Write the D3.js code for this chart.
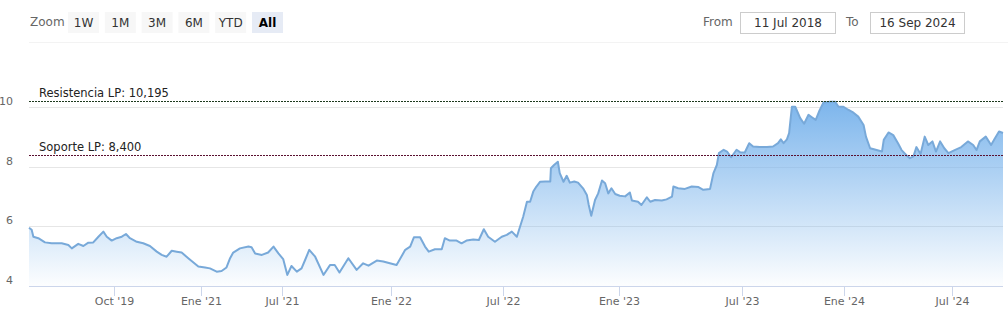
<!DOCTYPE html>
<html>
<head>
<meta charset="utf-8">
<script src="https://cdn.jsdelivr.net/npm/d3@7"></script>
<style>
  body { margin: 0; background: #fff; }
  svg { display: block; font-family: "DejaVu Sans", sans-serif; }
</style>
</head>
<body>
<svg id="chart" width="1008" height="317"></svg>
<script>
// DATA
var dates = [
    "2018-07-11", "2018-07-25", "2018-08-03", "2018-08-29", "2018-10-03", "2018-11-07", "2018-12-30",
    "2019-02-03", "2019-02-21", "2019-03-27", "2019-04-23", "2019-05-19", "2019-06-14", "2019-07-11",
    "2019-08-06", "2019-08-24", "2019-09-19", "2019-10-15", "2019-11-11", "2019-12-03", "2019-12-24",
    "2020-01-29", "2020-03-03", "2020-04-07", "2020-05-13", "2020-06-08", "2020-07-04", "2020-07-31",
    "2020-08-26", "2020-09-21", "2020-10-26", "2020-12-18",
    "2021-01-10", "2021-01-21", "2021-02-05", "2021-02-16", "2021-02-27", "2021-03-07", "2021-03-14",
    "2021-03-29", "2021-04-17", "2021-04-24", "2021-05-02", "2021-05-17", "2021-05-31", "2021-06-12",
    "2021-06-23", "2021-07-03", "2021-07-10", "2021-07-17", "2021-07-26", "2021-08-03", "2021-08-09",
    "2021-08-16", "2021-08-26", "2021-09-09", "2021-09-20", "2021-09-28", "2021-10-06", "2021-10-21",
    "2021-11-04", "2021-11-15", "2021-11-24", "2021-12-08", "2021-12-19", "2021-12-30",
    "2022-01-10", "2022-01-24", "2022-02-01", "2022-02-07", "2022-02-17", "2022-02-25", "2022-03-03",
    "2022-03-13", "2022-03-24", "2022-03-29", "2022-04-06", "2022-04-17", "2022-04-25", "2022-05-03",
    "2022-05-14", "2022-05-23", "2022-05-31", "2022-06-07", "2022-06-18", "2022-06-29", "2022-07-07",
    "2022-07-15", "2022-07-23", "2022-08-02", "2022-08-08", "2022-08-13", "2022-08-18", "2022-08-23",
    "2022-08-29", "2022-09-06", "2022-09-14", "2022-09-15", "2022-09-20", "2022-09-26", "2022-09-29",
    "2022-10-05", "2022-10-10", "2022-10-15", "2022-10-22", "2022-10-28", "2022-11-05", "2022-11-11",
    "2022-11-14", "2022-11-18", "2022-11-24", "2022-11-29", "2022-12-05", "2022-12-10", "2022-12-15",
    "2022-12-20", "2022-12-26",
    "2023-01-02", "2023-01-10", "2023-01-17", "2023-01-20", "2023-01-29", "2023-02-03", "2023-02-11",
    "2023-02-16", "2023-02-23", "2023-03-05", "2023-03-12", "2023-03-20", "2023-03-22", "2023-03-29",
    "2023-04-08", "2023-04-18", "2023-04-28", "2023-05-05", "2023-05-15", "2023-05-20", "2023-05-25",
    "2023-05-28", "2023-06-04", "2023-06-09", "2023-06-15", "2023-06-23", "2023-06-28", "2023-07-06",
    "2023-07-14", "2023-07-21", "2023-08-02", "2023-08-15", "2023-08-26", "2023-09-04", "2023-09-09",
    "2023-09-14", "2023-09-20", "2023-09-24", "2023-09-29", "2023-10-05", "2023-10-14", "2023-10-21",
    "2023-10-29", "2023-11-04", "2023-11-11", "2023-11-17", "2023-11-25", "2023-12-07", "2023-12-16",
    "2023-12-22", "2023-12-31",
    "2024-01-08", "2024-01-17", "2024-01-25", "2024-02-03", "2024-02-07", "2024-02-14", "2024-02-25",
    "2024-03-05", "2024-03-08", "2024-03-16", "2024-03-24", "2024-04-01", "2024-04-07", "2024-04-16",
    "2024-04-21", "2024-04-27", "2024-05-02", "2024-05-09", "2024-05-16", "2024-05-22", "2024-05-29",
    "2024-06-04", "2024-06-11", "2024-06-18", "2024-06-25", "2024-07-05", "2024-07-15", "2024-07-25",
    "2024-08-02", "2024-08-07", "2024-08-12", "2024-08-21", "2024-08-29", "2024-09-03", "2024-09-10",
    "2024-09-16"
];

var prices = [
    5.95, 5.88, 5.65, 5.60, 5.46, 5.43, 5.43,
    5.37, 5.26, 5.41, 5.34, 5.45, 5.46, 5.65,
    5.82, 5.65, 5.52, 5.60, 5.65, 5.74, 5.60,
    5.48, 5.43, 5.34, 5.15, 5.04, 4.98, 5.18,
    5.15, 5.12, 4.93, 4.65,
    4.62, 4.59, 4.48, 4.50, 4.62, 4.93, 5.12,
    5.26, 5.32, 5.30, 5.09, 5.04, 5.12, 5.32,
    5.09, 4.90, 4.37, 4.67, 4.48, 4.59, 4.87,
    5.21, 4.98, 4.37, 4.70, 4.70, 4.45, 4.93,
    4.54, 4.76, 4.68, 4.85, 4.82, 4.76,
    4.70, 5.21, 5.32, 5.63, 5.63, 5.32, 5.15,
    5.23, 5.23, 5.60, 5.52, 5.52, 5.43, 5.52,
    5.56, 5.54, 5.90, 5.65, 5.48, 5.65, 5.71,
    5.82, 5.65, 6.32, 6.82, 6.82, 7.16, 7.33,
    7.49, 7.50, 7.50, 7.94, 8.05, 8.16, 7.78,
    7.49, 7.69, 7.46, 7.50, 7.46, 7.27, 7.05,
    6.71, 6.35, 6.88, 7.10, 7.53, 7.44, 7.10,
    7.27, 7.08,
    7.02, 7.00, 7.13, 6.86, 6.82, 6.71, 6.97,
    6.82, 6.88, 6.86, 6.90, 6.99, 7.33, 7.27,
    7.25, 7.33, 7.31, 7.22, 7.25, 7.78, 8.05,
    8.45, 8.56, 8.50, 8.31, 8.56, 8.48, 8.47,
    8.78, 8.67, 8.65, 8.65, 8.67, 8.78, 8.91,
    8.78, 8.91, 9.12, 10.00, 10.00, 9.62, 9.43,
    9.73, 9.65, 9.56, 9.84, 10.14, 10.17, 10.17,
    10.00, 10.00,
    9.90, 9.80, 9.67, 9.39, 9.00, 8.61, 8.55,
    8.50, 8.89, 9.14, 9.05, 8.78, 8.55, 8.36,
    8.28, 8.34, 8.65, 8.42, 9.00, 8.72, 8.84,
    8.50, 8.84, 8.61, 8.45, 8.55, 8.65, 8.84,
    8.72, 8.55, 8.84, 9.00, 8.72, 8.91, 9.17,
    9.12
];

var levelNames = ["Resistencia LP: 10,195", "Soporte LP: 8,400"];
var levelValues = [10.195, 8.4];
var levelColors = ["#1e3a1e", "#5a1030"];

var yTicks = [4, 6, 8, 10];
var xTickDates = ["2019-10-01", "2021-01-01", "2021-07-01", "2022-01-01", "2022-07-01",
                  "2023-01-01", "2023-07-01", "2024-01-01", "2024-07-01"];
var xTickLabels = ["Oct '19", "Ene '21", "Jul '21", "Ene '22", "Jul '22",
                   "Ene '23", "Jul '23", "Ene '24", "Jul '24"];

// ordinal axis: break dates and their offset inside the plot
var axisBreaks = ["2018-07-11", "2019-10-01", "2021-01-01", "2021-07-01", "2022-01-01", "2022-07-01",
                  "2023-01-01", "2023-07-01", "2024-01-01", "2024-07-01", "2024-09-16"];
var axisOffsets = [0, 85, 172, 253, 362, 474, 590, 713, 815, 923, 974];

var zoomButtons = ["1W", "1M", "3M", "6M", "YTD", "All"];
var fromText = "11 Jul 2018";
var toText = "16 Sep 2024";

var parse = d3.timeParse("%Y-%m-%d");
var data = dates.map((d, i) => ({ date: parse(d), value: prices[i] }));

const svg = d3.select("#chart");
const plotLeft = 29, plotBottom = 286, plotTop = 47;

// SCALES
var x = d3.scaleTime()
    .domain(axisBreaks.map(parse))
    .range(axisOffsets.map(o => plotLeft + o));

var y = d3.scaleLinear()
    .domain([4, 12])
    .range([plotBottom, plotTop]);

var plotRight = x.range()[x.range().length - 1];

// RANGE SELECTOR
var rs = svg.append("g").attr("font-size", 12);
rs.append("text")
    .attr("x", 30).attr("y", 26)
    .attr("fill", "#666")
    .text("Zoom");

var btn = rs.selectAll("g.btn")
    .data(zoomButtons)
    .join("g")
    .attr("class", "btn")
    .attr("transform", (d, i) => "translate(" + (68 + i * 36.8) + ",12)");
btn.append("rect")
    .attr("width", 31).attr("height", 21)
    .attr("fill", d => d == "All" ? "#e6ebf5" : "#f7f7f7");
btn.append("text")
    .attr("x", 15.5).attr("y", 14.5)
    .attr("text-anchor", "middle")
    .attr("fill", d => d == "All" ? "#000" : "#333")
    .attr("font-weight", d => d == "All" ? "bold" : "normal")
    .text(d => d);

rs.append("text").attr("x", 703).attr("y", 26).attr("fill", "#666").text("From");
rs.append("text").attr("x", 846).attr("y", 26).attr("fill", "#666").text("To");

var boxes = [{ x: 740, w: 95, t: fromText }, { x: 870, w: 94, t: toText }];
var box = rs.selectAll("g.box")
    .data(boxes)
    .join("g")
    .attr("class", "box")
    .attr("transform", d => "translate(" + d.x + ",12)");
box.append("rect")
    .attr("x", 0.5).attr("y", 0.5)
    .attr("width", d => d.w).attr("height", 21)
    .attr("fill", "#fff").attr("stroke", "#cccccc");
box.append("text")
    .attr("x", d => d.w / 2 + 0.5).attr("y", 15)
    .attr("text-anchor", "middle")
    .attr("fill", "#333")
    .text(d => d.t);

svg.append("line")
    .attr("x1", plotLeft).attr("x2", 1008)
    .attr("y1", 42.5).attr("y2", 42.5)
    .attr("stroke", "#f3f3f3");

// GRID
svg.append("g")
    .selectAll("line")
    .data(yTicks.filter(t => t > 4))
    .join("line")
    .attr("x1", plotLeft).attr("x2", plotRight)
    .attr("y1", d => Math.round(y(d)) + 0.5)
    .attr("y2", d => Math.round(y(d)) + 0.5)
    .attr("stroke", "#e6e6e6");

svg.append("g")
    .attr("font-size", 11)
    .attr("fill", "#666")
    .selectAll("text")
    .data(yTicks)
    .join("text")
    .attr("x", 13)
    .attr("y", d => y(d) - 2)
    .attr("text-anchor", "end")
    .text(d => d);

// AREA
var defs = svg.append("defs");
var grad = defs.append("linearGradient")
    .attr("id", "fillGrad")
    .attr("gradientUnits", "userSpaceOnUse")
    .attr("x1", 0).attr("x2", 0)
    .attr("y1", y(10.2)).attr("y2", plotBottom);
grad.append("stop").attr("offset", 0).attr("stop-color", "#7cb5ec").attr("stop-opacity", 1);
grad.append("stop").attr("offset", 1).attr("stop-color", "#7cb5ec").attr("stop-opacity", 0.02);

var area = d3.area()
    .x(d => x(d.date))
    .y0(plotBottom)
    .y1(d => y(d.value));

var line = d3.line()
    .x(d => x(d.date))
    .y(d => y(d.value));

svg.append("path")
    .datum(data)
    .attr("d", area)
    .attr("fill", "url(#fillGrad)");

svg.append("path")
    .datum(data)
    .attr("d", line)
    .attr("fill", "none")
    .attr("stroke", "#78a9d9")
    .attr("stroke-width", 2)
    .attr("stroke-linejoin", "round");

// X AXIS
var xAxis = d3.axisBottom(x)
    .tickValues(xTickDates.map(parse))
    .tickFormat((d, i) => xTickLabels[i])
    .tickSize(10)
    .tickSizeOuter(0);

var gx = svg.append("g")
    .attr("transform", "translate(0," + plotBottom + ")")
    .call(xAxis);
gx.select(".domain").attr("stroke", "#ccd6eb").attr("d", "M" + plotLeft + ",0.5H" + plotRight);
gx.selectAll(".tick line").attr("stroke", "#ccd6eb");
gx.selectAll(".tick text")
    .attr("fill", "#666")
    .attr("font-size", 11)
    .attr("font-family", "DejaVu Sans, sans-serif")
    .attr("dy", "0.71em")
    .attr("y", 11);

// LEVELS (resistance / support)
var lv = svg.append("g")
    .selectAll("g")
    .data(levelValues)
    .join("g");
lv.append("line")
    .attr("x1", plotLeft).attr("x2", plotRight)
    .attr("y1", d => Math.round(y(d)) + 0.5)
    .attr("y2", d => Math.round(y(d)) + 0.5)
    .attr("stroke", (d, i) => levelColors[i])
    .attr("stroke-dasharray", "2,1");
lv.append("text")
    .attr("x", 39)
    .attr("y", d => y(d) - 4)
    .attr("font-size", 11.5)
    .attr("fill", "#222")
    .text((d, i) => levelNames[i]);
</script>
</body>
</html>
